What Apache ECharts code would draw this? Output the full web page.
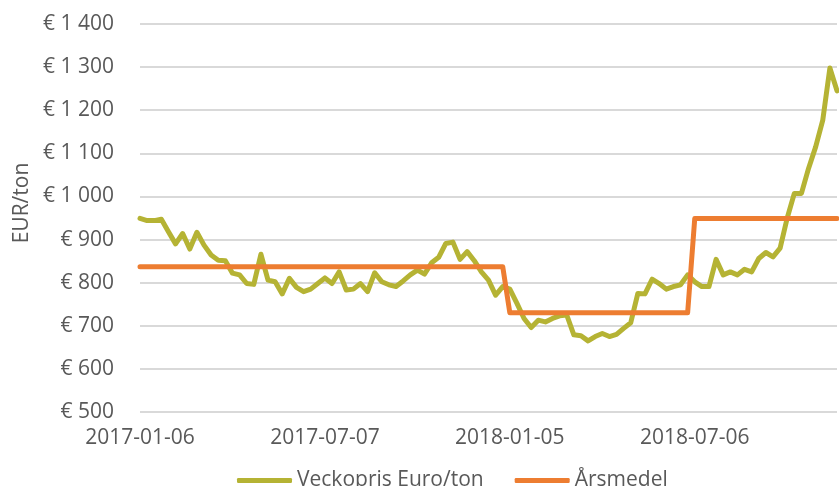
<!DOCTYPE html>
<html>
<head>
<meta charset="utf-8">
<script src="https://cdn.jsdelivr.net/npm/echarts@6/dist/echarts.min.js"></script>
<style>
  html, body { margin: 0; padding: 0; background: #fff; }
  #chart { width: 839px; height: 486px; }
</style>
</head>
<body>
<div id="chart"></div>
<script>
// weekly price, Euro/ton, one value per Friday from 2017-01-06
var firstWeek = '2017-01-06'
var veckopris = [
  949, 944, 944, 947, 918, 890, 914, 878, 917, 887,
  864, 852, 851, 822, 818, 798, 796, 866, 806, 802,
  774, 810, 789, 779, 785, 798, 811, 798, 825, 783,
  785, 798, 779, 823, 802, 795, 791, 804, 818, 829,
  820, 846, 859, 891, 894, 854, 872, 851, 825, 806,
  771, 791, 785, 752, 717, 696, 713, 709, 717, 723,
  725, 679, 677, 665, 675, 682, 675, 680, 694, 707,
  775, 774, 808, 798, 785, 791, 795, 818, 802, 791,
  791, 854, 818, 825, 818, 831, 825, 856, 870, 860,
  880, 950, 1007, 1007, 1065, 1115, 1177, 1298, 1245
]
// yearly mean: level and the week index where it starts
var arsmedelNivå = [837, 730, 949]
var arsmedelStart = [0, 52, 78]

var yTicks = { min: 500, max: 1400, step: 100 }

function weekLabels(start, n) {
  var out = []
  var d = new Date(start + 'T00:00:00Z')
  for (var i = 0; i < n; i++) {
    out.push(d.toISOString().slice(0, 10))
    d = new Date(d.getTime() + 7 * 86400000)
  }
  return out
}

function stepSeries(levels, starts, n) {
  var out = []
  var k = 0
  for (var i = 0; i < n; i++) {
    if (k + 1 < starts.length && i >= starts[k + 1]) k++
    out.push(levels[k])
  }
  return out
}

var weeks = weekLabels(firstWeek, veckopris.length)
var arsmedel = stepSeries(arsmedelNivå, arsmedelStart, veckopris.length)

var font = '"Open Sans", sans-serif'
var textColor = '#595959'

var chart = echarts.init(document.getElementById('chart'))
chart.setOption({
  animation: false,
  textStyle: { fontFamily: font },
  grid: { left: 140, right: 2, top: 24, bottom: 74 },
  legend: {
    left: 232,
    top: 465,
    itemWidth: 55,
    itemHeight: 5,
    itemGap: 31,
    icon: 'roundRect',
    textStyle: { fontFamily: font, fontSize: 21, color: textColor },
    data: ['Veckopris Euro/ton', 'Årsmedel']
  },
  xAxis: {
    type: 'category',
    data: weeks,
    boundaryGap: false,
    axisLine: { show: false },
    axisTick: { show: false },
    axisLabel: {
      interval: 25,
      margin: 16,
      fontFamily: font,
      fontSize: 21,
      color: textColor
    },
    splitLine: { show: false }
  },
  yAxis: {
    type: 'value',
    min: yTicks.min,
    max: yTicks.max,
    interval: yTicks.step,
    name: 'EUR/ton',
    nameLocation: 'middle',
    nameGap: 106,
    nameTextStyle: { fontFamily: font, fontSize: 21, color: textColor, padding: [0, 0, 0, 30] },
    axisLine: { show: false },
    axisTick: { show: false },
    axisLabel: {
      margin: 26,
      fontFamily: font,
      fontSize: 21,
      color: textColor,
      formatter: function (v) {
        var s = String(v)
        if (v >= 1000) s = s.slice(0, s.length - 3) + '\u00a0' + s.slice(-3)
        return '€\u00a0' + s
      }
    },
    splitLine: { lineStyle: { color: '#D9D9D9', width: 2 } }
  },
  series: [
    {
      name: 'Veckopris Euro/ton',
      type: 'line',
      data: veckopris,
      symbol: 'none',
      color: '#B5B334',
      lineStyle: { width: 5, color: '#B5B334', cap: 'round', join: 'round' },
      z: 2
    },
    {
      name: 'Årsmedel',
      type: 'line',
      data: arsmedel,
      symbol: 'none',
      color: '#ED7D31',
      lineStyle: { width: 5, color: '#ED7D31', cap: 'round', join: 'round' },
      z: 3
    }
  ]
})
</script>
</body>
</html>
